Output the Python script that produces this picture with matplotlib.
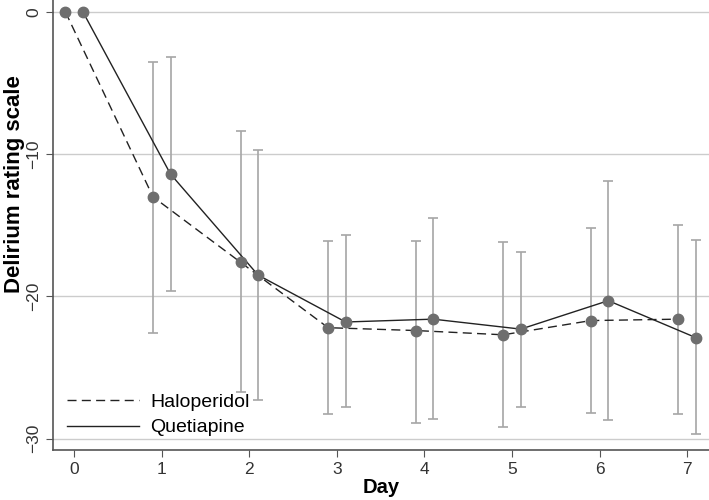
import numpy as np
import matplotlib.pyplot as plt

plt.rcParams['font.family'] = ['Liberation Sans', 'DejaVu Sans']

days = [0, 1, 2, 3, 4, 5, 6, 7]

# Haloperidol: mean, upper and lower limits
halo_mean = [0, -13.0, -17.6, -22.2, -22.4, -22.7, -21.7, -21.6]
halo_hi = [np.nan, -3.5, -8.4, -16.1, -16.1, -16.2, -15.2, -15.0]
halo_lo = [np.nan, -22.6, -26.7, -28.3, -28.9, -29.2, -28.2, -28.3]

# Quetiapine
quet_mean = [0, -11.4, -18.5, -21.8, -21.6, -22.3, -20.3, -22.9]
quet_hi = [np.nan, -3.2, -9.7, -15.7, -14.5, -16.9, -11.9, -16.0]
quet_lo = [np.nan, -19.6, -27.3, -27.8, -28.6, -27.8, -28.7, -29.7]

yticks = [0, -10, -20, -30]

fig = plt.figure(figsize=(7.09, 5.0), dpi=100)
ax = fig.add_axes([0.075, 0.1, 0.925, 0.9])

def draw(offset, mean, hi, lo, ls, label):
    x = np.array(days) + offset
    mean = np.array(mean)
    hi = np.array(hi)
    lo = np.array(lo)
    ok = ~np.isnan(hi)
    ax.errorbar(x[ok], mean[ok], yerr=[mean[ok] - lo[ok], hi[ok] - mean[ok]],
                fmt='none', ecolor='#a6a6a6', elinewidth=1.2, capsize=3.5,
                capthick=1.2, zorder=2)
    ax.plot(x, mean, color='#222222', ls=ls, lw=1.0, label=label, zorder=3,
            dashes=(6.5, 3.8) if ls == '--' else (None, None))
    ax.plot(x, mean, 'o', color='#6e6e6e', ms=7.5, mec='#6e6e6e', zorder=4)

draw(-0.1, halo_mean, halo_hi, halo_lo, '--', 'Haloperidol')
draw(0.1, quet_mean, quet_hi, quet_lo, '-', 'Quetiapine')

ax.set_xlim(-0.24, 7.25)
ax.set_ylim(-30.8, 0.84)
ax.set_yticks(yticks)
ax.set_yticklabels(['0', '\u221210', '\u221220', '\u221230'], rotation=90, va='center')
ax.set_xticks(days)
ax.grid(axis='y', color='#cccccc', lw=1.0)
ax.set_axisbelow(True)
for s in ['top', 'right']:
    ax.spines[s].set_visible(False)
for s in ['left', 'bottom']:
    ax.spines[s].set_color('#555555')
    ax.spines[s].set_linewidth(1.2)
ax.tick_params(colors='#555555', labelcolor='#333333', labelsize=12.5, length=5)
ax.set_ylabel('Delirium rating scale', fontsize=16, fontweight='bold')
ax.yaxis.set_label_coords(-0.043, 0.59)
ax.set_xlabel('Day', fontsize=14.5, fontweight='bold', labelpad=1)

ax.legend(loc='lower left', frameon=False, fontsize=14, handlelength=3.7,
          borderaxespad=0.4, handletextpad=0.6, labelspacing=0.4,
          borderpad=0.3)

fig.savefig('out.png', dpi=100)
